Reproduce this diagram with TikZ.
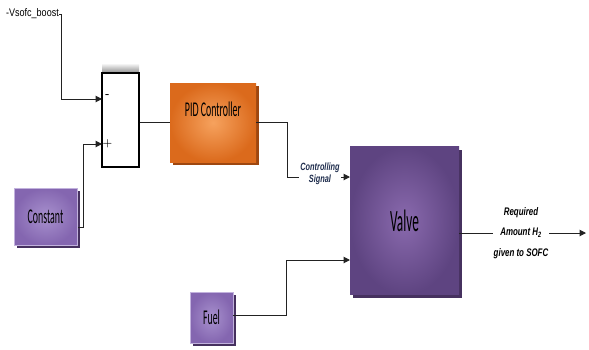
\documentclass[tikz,border=0pt]{standalone}
\usepackage{fontspec}
\usetikzlibrary{arrows.meta,shadows}
\newfontfamily\boxfont[FakeStretch=0.47]{Carlito}
\newfontfamily\valvefont[FakeStretch=0.43]{Carlito}
\newfontfamily\lblfont[FakeStretch=0.7]{Liberation Sans}
\newfontfamily\reqfont[FakeStretch=0.72]{Liberation Sans}
\newfontfamily\vsfont[FakeStretch=0.82]{Liberation Sans}
\definecolor{pidout}{HTML}{DB6A1C}
\definecolor{pidin}{HTML}{F6A25E}
\definecolor{pidsh}{HTML}{9E4710}
\definecolor{valout}{HTML}{5E4481}
\definecolor{valin}{HTML}{8A6AAE}
\definecolor{purpsh}{HTML}{46315F}
\definecolor{lpout}{HTML}{8466B0}
\definecolor{lpin}{HTML}{A891CE}
\definecolor{navy}{HTML}{1F2D4D}
\definecolor{wire}{HTML}{222222}
\begin{document}
\begin{tikzpicture}[x=1pt,y=-1pt,
  wirestyle/.style={draw=wire,line width=1pt},
  arr/.style={wirestyle,-{Triangle[length=6.5pt,width=6.5pt]}},
  pidbox/.style={rectangle,inner sep=0pt,shade,inner color=pidin,outer color=pidout,
    copy shadow={shadow xshift=3pt,shadow yshift=-3pt,fill=pidsh,draw=none}},
  valvebox/.style={rectangle,inner sep=0pt,shade,inner color=valin,outer color=valout,
    copy shadow={shadow xshift=3pt,shadow yshift=-3pt,fill=purpsh,draw=none}},
  srcbox/.style={rectangle,inner sep=0pt,shade,inner color=lpin,outer color=lpout,
    draw=lpin!70!white,line width=0.6pt,
    copy shadow={shadow xshift=3pt,shadow yshift=-3pt,fill=purpsh,draw=none}},
  boxlbl/.style={font=\boxfont\fontsize{21}{22}\selectfont,text=black},
  siglbl/.style={font=\lblfont\bfseries\itshape\fontsize{10.5}{12}\selectfont,align=center,fill=white,inner sep=1pt},
  sign/.style={font=\bfseries\fontsize{11}{11}\selectfont,inner sep=0pt}
]
\useasboundingbox (0,0) rectangle (589,349);

% summation block
\shade[top color=white,bottom color=black!45] (102,63) rectangle (139,73);
\node[rectangle,draw=black,line width=1.3pt,fill=white,minimum width=37pt,minimum height=94pt,inner sep=0pt] (sum) at (120.5,120) {};
\node[sign] (minus) at (107.5,96) {-};
\node[sign] (plus) at (107.5,143.5) {+};
\coordinate (sumin1) at (102,99);
\coordinate (sumin2) at (102,144);

% source label
\node[font=\vsfont\fontsize{11}{12}\selectfont,inner sep=0pt,anchor=east] (vs) at (59,14) {-Vsofc\_boost};

% blocks
\node[pidbox,minimum width=86pt,minimum height=79pt,
  label={[name=pidtxt,boxlbl,yshift=13pt]center:PID Controller}] (pid) at (213,122.5) {};
\node[valvebox,minimum width=109pt,minimum height=148pt,
  font=\valvefont\fontsize{31}{32}\selectfont] (valve) at (404.5,220.5) {Valve};
\node[srcbox,minimum width=63pt,minimum height=57pt,boxlbl] (const) at (45.5,216.5) {Constant};
\node[srcbox,minimum width=43pt,minimum height=51pt,boxlbl] (fuel) at (211.5,317.5) {Fuel};

\coordinate (constout) at (78,227);
\coordinate (valvein1) at (350,177);
\coordinate (valvein2) at (350,260);
\coordinate (valveout) at (459,233);
\coordinate (outend) at (586,233);

% connectors
\draw[arr] (vs.east) -- ++(2,0) |- (sumin1);
\draw[arr] (constout) -- ++(5,0) |- (sumin2);
\draw[wirestyle] (sum.east |- pid.west) -- (pid.west);
\draw[arr] (pid.east) -- ++(31,0) |- (valvein1);
\draw[arr] ([yshift=2.5pt]fuel.east) -- ++(53,0) |- (valvein2);
\draw[arr] (valveout) -- (outend);

% labels on wires
\node[siglbl,text=navy] (ctrl) at (320,174) {Controlling\\Signal};
\node[siglbl,text=black,font=\reqfont\bfseries\itshape\fontsize{11}{20.5}\selectfont] (req) at (521,233) {Required\\Amount H\textsubscript{2}\\given to SOFC};
\end{tikzpicture}
\end{document}
